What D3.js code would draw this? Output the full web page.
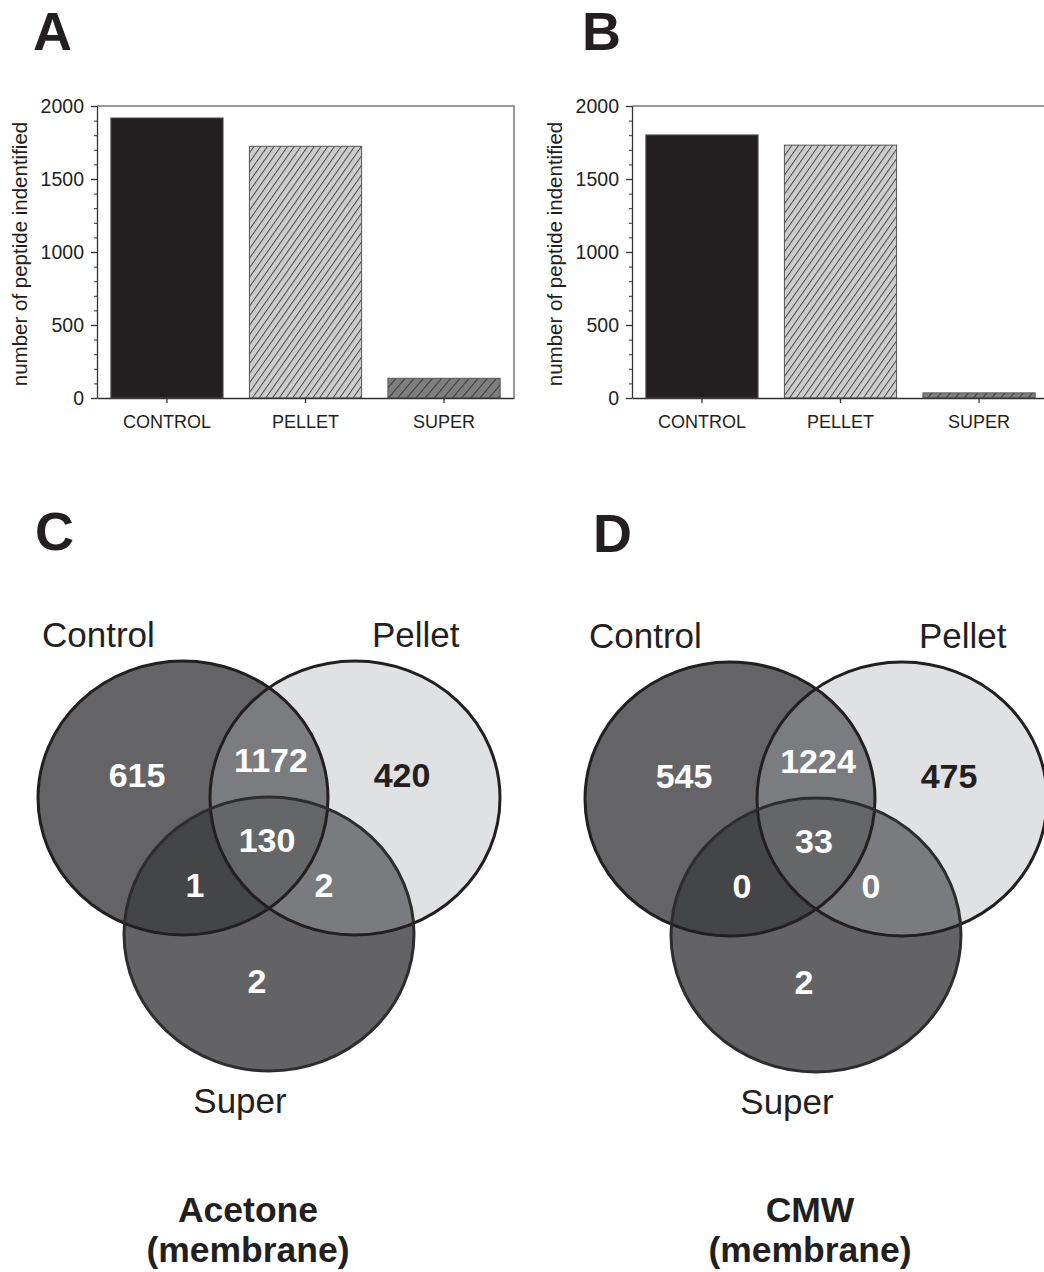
<!DOCTYPE html>
<html>
<head>
<meta charset="utf-8">
<script src="https://cdn.jsdelivr.net/npm/d3@7"></script>
<style>
body { margin: 0; background: #fff; }
svg { display: block; font-family: "Liberation Sans", Arial, Helvetica, sans-serif; }
</style>
</head>
<body>
<div id="fig"></div>
<script>
// data
const categories = ['CONTROL', 'PELLET', 'SUPER'];
const acetoneCounts = [1918, 1724, 135];
const cmwCounts = [1802, 1732, 35];
const yTicks = [0, 500, 1000, 1500, 2000];
const yLabel = 'number of peptide indentified';

const vennSets = ['Control', 'Pellet', 'Super'];
// C only, C&P, P only, C&P&S, C&S, P&S, S only
const acetoneRegions = [615, 1172, 420, 130, 1, 2, 2];
const cmwRegions = [545, 1224, 475, 33, 0, 0, 2];
const panelTitles = [['Acetone', '(membrane)'], ['CMW', '(membrane)']];

const W = 1044, H = 1272;
const ink = '#231f20';

const svg = d3.select('#fig').append('svg')
    .attr('width', W)
    .attr('height', H);

const defs = svg.append('defs');

function hatch(id, bg, fg, size, angle) {
    const p = defs.append('pattern')
        .attr('id', id)
        .attr('patternUnits', 'userSpaceOnUse')
        .attr('width', size)
        .attr('height', size)
        .attr('patternTransform', `rotate(${angle})`);
    p.append('rect').attr('width', size).attr('height', size).attr('fill', bg);
    p.append('line')
        .attr('x1', 0.5).attr('y1', 0).attr('x2', 0.5).attr('y2', size)
        .attr('stroke', fg).attr('stroke-width', 1);
}
hatch('hatchPellet', '#cdcdcd', '#4a4a4a', 5.5, 35);
hatch('hatchSuper', '#7e7e7e', '#3a3a3a', 7, 40);
const barFills = [ink, 'url(#hatchPellet)', 'url(#hatchSuper)'];

// panel letters
const letters = [['A', 33, 50], ['B', 582, 50], ['C', 35, 550], ['D', 593, 552]];
svg.selectAll('text.letter')
    .data(letters)
    .enter()
    .append('text')
    .attr('class', 'letter')
    .attr('x', d => d[1])
    .attr('y', d => d[2])
    .style('font', 'bold 54px "Liberation Sans", Arial, sans-serif')
    .attr('fill', ink)
    .text(d => d[0]);

// bar charts
function drawBars(values, left) {
    const plotW = 417, top = 106, bottom = 398;
    const g = svg.append('g');

    const x = d3.scaleBand()
        .domain(categories)
        .range([left, left + plotW])
        .paddingInner(0.19)
        .paddingOuter(0.1);

    const y = d3.scaleLinear()
        .domain([0, 2000])
        .range([bottom, top]);

    // frame (top and right)
    g.append('path')
        .attr('d', `M${left},${y(2000)}H${left + plotW}V${y(0)}`)
        .attr('fill', 'none')
        .attr('stroke', '#7a7a7a')
        .attr('stroke-width', 1.5);

    g.selectAll('rect.bar')
        .data(values)
        .enter()
        .append('rect')
        .attr('class', 'bar')
        .attr('x', (d, i) => x(categories[i]))
        .attr('y', d => y(d))
        .attr('width', x.bandwidth())
        .attr('height', d => y(0) - y(d))
        .attr('fill', (d, i) => barFills[i])
        .attr('stroke', '#555')
        .attr('stroke-width', 1);

    // minor ticks
    g.append('g')
        .attr('transform', `translate(${left},0)`)
        .call(d3.axisLeft(y).tickValues(d3.range(0, 2001, 100)).tickSize(3).tickFormat(''))
        .call(a => a.select('.domain').remove())
        .selectAll('line').attr('stroke', '#333');

    const ay = g.append('g')
        .attr('transform', `translate(${left},0)`)
        .call(d3.axisLeft(y).tickValues(yTicks).tickFormat(d3.format('d'))
            .tickSize(6).tickSizeOuter(0).tickPadding(7));
    ay.selectAll('text')
        .style('font-size', '19.5px')
        .style('font-family', '"Liberation Sans", Arial, sans-serif')
        .attr('fill', ink);
    ay.selectAll('line, path').attr('stroke', '#333').attr('stroke-width', 1.3);

    const ax = g.append('g')
        .attr('transform', `translate(0,${bottom})`)
        .call(d3.axisBottom(x).tickSize(5).tickSizeOuter(0).tickPadding(12));
    ax.selectAll('text')
        .style('font-size', '18px')
        .style('font-family', '"Liberation Sans", Arial, sans-serif')
        .attr('fill', ink);
    ax.selectAll('line, path').attr('stroke', '#333').attr('stroke-width', 1.3);

    g.append('text')
        .attr('transform', `translate(${left - 70},${(top + bottom) / 2 + 2}) rotate(-90)`)
        .attr('text-anchor', 'middle')
        .style('font-size', '20.5px')
        .attr('fill', ink)
        .text(yLabel);
}

drawBars(acetoneCounts, 97);
drawBars(cmwCounts, 632);

// venn diagrams
const rx = 145, ry = 137;
const setOffsets = [[-86, 0], [86, 0], [0, 136]];
const regionOffsets = [[-132, -11], [2, -26], [133, -11], [-2, 54], [-74, 99], [55, 99], [-12, 195]];
const regionInk = ['#fff', '#fff', ink, '#fff', '#fff', '#fff', '#fff'];
const setLabelPos = [[-227, -151, 'start'], [103, -151, 'start'], [-29, 315, 'middle']];

const baseFill = ['#646466', '#e0e1e3', '#636365'];
const fillCP = '#7b7c7f', fillCS = '#444547', fillPS = '#7a7b7e', fillCPS = '#656668';

function drawVenn(regions, cx, cy, title, titleX, key) {
    const g = svg.append('g');
    const centers = setOffsets.map(o => [cx + o[0], cy + o[1]]);

    centers.forEach((c, i) => {
        defs.append('clipPath')
            .attr('id', `clip-${key}-${i}`)
            .append('ellipse')
            .attr('cx', c[0]).attr('cy', c[1]).attr('rx', rx).attr('ry', ry);
    });

    const ell = (sel, i, fill) => sel.append('ellipse')
        .attr('cx', centers[i][0]).attr('cy', centers[i][1])
        .attr('rx', rx).attr('ry', ry)
        .attr('fill', fill);

    centers.forEach((c, i) => ell(g, i, baseFill[i]));

    ell(g.append('g').attr('clip-path', `url(#clip-${key}-0)`), 1, fillCP);
    ell(g.append('g').attr('clip-path', `url(#clip-${key}-0)`), 2, fillCS);
    ell(g.append('g').attr('clip-path', `url(#clip-${key}-1)`), 2, fillPS);
    ell(g.append('g').attr('clip-path', `url(#clip-${key}-0)`)
        .append('g').attr('clip-path', `url(#clip-${key}-1)`), 2, fillCPS);

    g.selectAll('ellipse.outline')
        .data(centers)
        .enter()
        .append('ellipse')
        .attr('class', 'outline')
        .attr('cx', d => d[0]).attr('cy', d => d[1])
        .attr('rx', rx).attr('ry', ry)
        .attr('fill', 'none')
        .attr('stroke', (d, i) => i === 2 ? '#2e2c2d' : ink)
        .attr('stroke-width', 3);

    g.selectAll('text.region')
        .data(regions)
        .enter()
        .append('text')
        .attr('class', 'region')
        .attr('x', (d, i) => cx + regionOffsets[i][0])
        .attr('y', (d, i) => cy + regionOffsets[i][1])
        .attr('text-anchor', 'middle')
        .style('font-size', '34px')
        .style('font-weight', 'bold')
        .attr('fill', (d, i) => regionInk[i])
        .text(d => d);

    g.selectAll('text.set')
        .data(vennSets)
        .enter()
        .append('text')
        .attr('class', 'set')
        .attr('x', (d, i) => cx + setLabelPos[i][0])
        .attr('y', (d, i) => cy + setLabelPos[i][1])
        .attr('text-anchor', (d, i) => setLabelPos[i][2])
        .style('font-size', '35px')
        .attr('fill', ink)
        .text(d => d);

    g.selectAll('text.title')
        .data(title)
        .enter()
        .append('text')
        .attr('class', 'title')
        .attr('x', titleX)
        .attr('y', (d, i) => 1222 + i * 40)
        .attr('text-anchor', 'middle')
        .style('font-size', '35.5px')
        .style('font-weight', 'bold')
        .attr('fill', ink)
        .text(d => d);
}

drawVenn(acetoneRegions, 269, 798, panelTitles[0], 248, 'c');
drawVenn(cmwRegions, 816, 799, panelTitles[1], 810, 'd');
</script>
</body>
</html>
